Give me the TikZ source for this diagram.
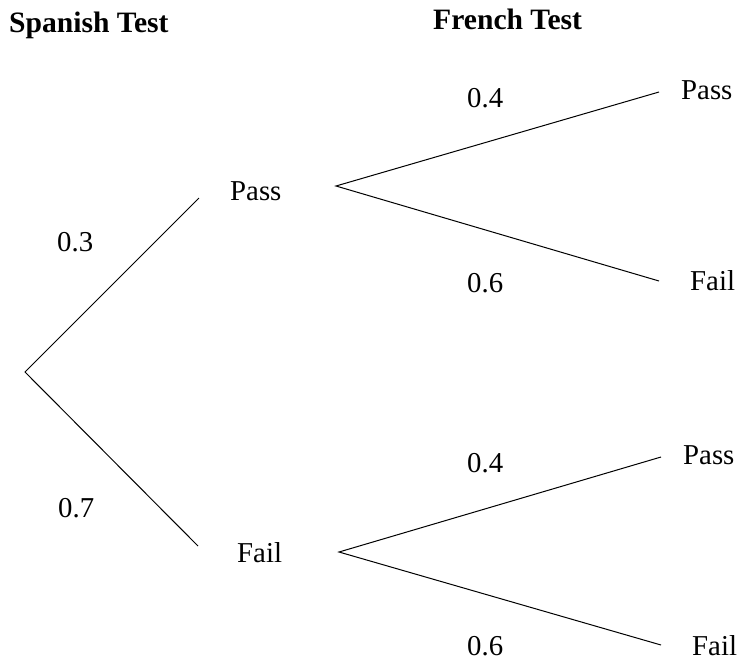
\documentclass[tikz,border=0pt]{standalone}
\usepackage{fontspec}
\setmainfont{Liberation Serif}
\begin{document}
\begin{tikzpicture}[x=1pt,y=-1pt,
  lbl/.style={anchor=base west,inner sep=0pt,font=\fontsize{28.8}{34}\selectfont},
  hdr/.style={anchor=base west,inner sep=0pt,font=\fontsize{29.6}{35}\selectfont\bfseries},
  branch/.style={line width=1pt,black}]
\useasboundingbox (0,0) rectangle (739,662);
% headers
\node[hdr] (hs) at (9,32) {Spanish Test};
\node[hdr] (hf) at (433,29) {French Test};
% branch points
\coordinate (root) at (25,372);
\coordinate (e1) at (199,198);
\coordinate (e2) at (198,546);
\coordinate (j1) at (336,186);
\coordinate (j2) at (339,552);
\coordinate (f1) at (659,92);
\coordinate (f2) at (659,281);
\coordinate (f3) at (661,457);
\coordinate (f4) at (661,645);
% labels
\node[lbl] (pass1) at (230,200) {Pass};
\node[lbl] (fail1) at (237,562) {Fail};
\node[lbl] (p03) at (57,251) {0.3};
\node[lbl] (p07) at (58,517) {0.7};
\node[lbl] (p04a) at (467,107) {0.4};
\node[lbl] (p06a) at (467,292) {0.6};
\node[lbl] (p04b) at (467,472) {0.4};
\node[lbl] (p06b) at (467,655) {0.6};
\node[lbl] (pp) at (681,99) {Pass};
\node[lbl] (pf) at (690,290) {Fail};
\node[lbl] (fp) at (683,464) {Pass};
\node[lbl] (ff) at (692,655) {Fail};
% connectors
\draw[branch] (e1) -- (root) -- (e2);
\draw[branch] (f1) -- (j1) -- (f2);
\draw[branch] (f3) -- (j2) -- (f4);
\end{tikzpicture}
\end{document}
